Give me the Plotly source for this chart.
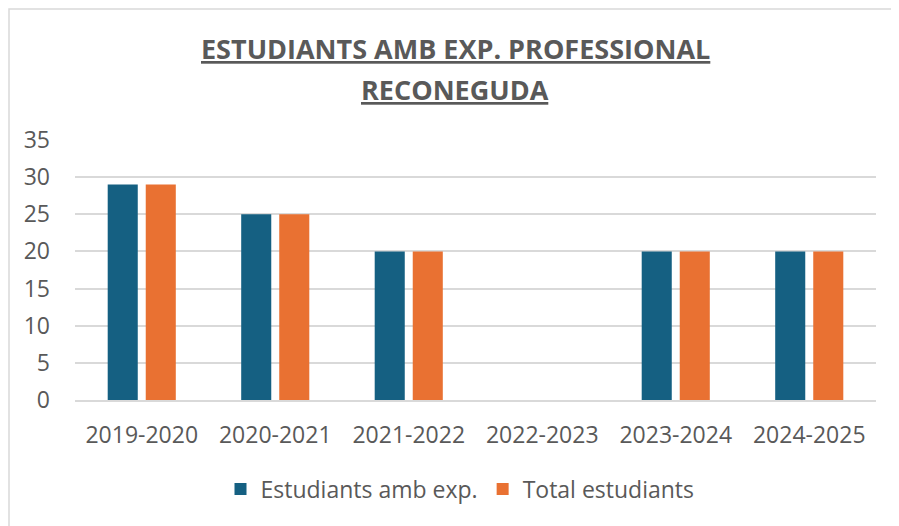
import plotly.graph_objects as go

cursos = ["2019-2020", "2020-2021", "2021-2022", "2022-2023", "2023-2024", "2024-2025"]
amb_exp = [29, 25, 20, None, 20, 20]
total = [29, 25, 20, None, 20, 20]

blau = "#156082"
taronja = "#E97132"
gris_text = "#595959"
font = "Open Sans"

fig = go.Figure()
fig.add_trace(go.Bar(x=cursos, y=amb_exp, name="Estudiants amb exp.",
                     marker=dict(color=blau, line=dict(color=blau, width=0))))
fig.add_trace(go.Bar(x=cursos, y=total, name="Total estudiants",
                     marker=dict(color=taronja, line=dict(color=taronja, width=0))))

# la pàgina té un marge de 8px al body
OFF = 8
W, H = 899 - OFF, 526 - OFF
L, R, T, B = 75 - OFF, 23, 140 - OFF, 126

def px_x(x):
    return (x - OFF - L) / (W - L - R)

def px_y(y):
    return (H - B - (y - OFF)) / (H - T - B)

# marc exterior del gràfic
fig.add_shape(type="rect", xref="paper", yref="paper",
              x0=px_x(9), x1=px_x(960), y0=px_y(600), y1=px_y(9),
              line=dict(color="#D9D9D9", width=1.5), layer="below")

titols = ["ESTUDIANTS AMB EXP. PROFESSIONAL", "RECONEGUDA"]
for i, t in enumerate(titols):
    fig.add_annotation(text="<b>" + t + "</b>", xref="paper", yref="paper",
                       x=px_x(455), y=px_y(49 + 40 * i), showarrow=False,
                       xanchor="center", yanchor="middle",
                       font=dict(family=font, size=27, color=gris_text,
                                 lineposition="under"))

fig.update_layout(
    width=W, height=H,
    margin=dict(l=L, r=R, t=T, b=B),
    plot_bgcolor="white", paper_bgcolor="white",
    barmode="group", bargap=0.43, bargroupgap=0.21,
    font=dict(family=font, color=gris_text, size=23),
    showlegend=True,
    legend=dict(orientation="h", x=px_x(460), xanchor="center",
                y=px_y(489), yanchor="middle",
                font=dict(size=23, color=gris_text), itemwidth=30),
    xaxis=dict(showline=True, linecolor="#D9D9D9", linewidth=1.5,
               ticks="", tickfont=dict(size=23, color=gris_text),
               ticklabelstandoff=14),
    yaxis=dict(range=[0, 35], dtick=5, showgrid=True, gridcolor="#D9D9D9",
               gridwidth=1.5, zeroline=False, showline=False,
               tickfont=dict(size=23, color=gris_text), ticklabelstandoff=24),
)

fig.write_html("out.html")
